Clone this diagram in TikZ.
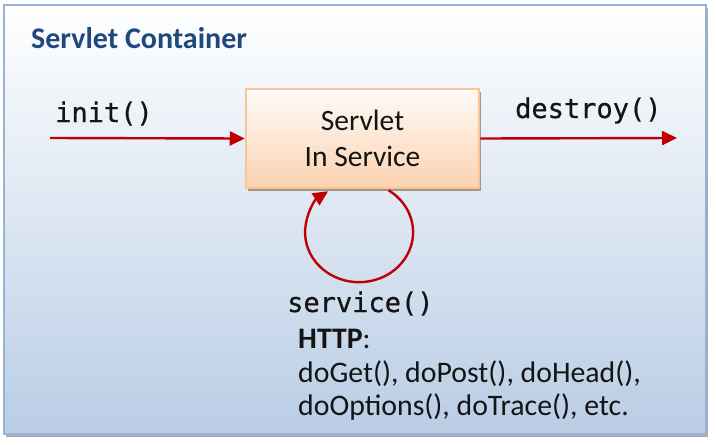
\documentclass[tikz,border=0pt]{standalone}
\usepackage{fontspec}
\setmainfont{Carlito}
\newfontfamily\codefont[FakeBold=0.7]{DejaVu Sans Mono}
\usetikzlibrary{arrows.meta,shadows,calc}
\definecolor{titleblue}{HTML}{1F497D}
\definecolor{bgbottom}{HTML}{B9CDE5}
\definecolor{bgborder}{HTML}{95B3D7}
\definecolor{boxbottom}{HTML}{FBD2B0}
\definecolor{boxtop}{HTML}{FFFBF8}
\definecolor{boxborder}{HTML}{FBC497}
\definecolor{arrowred}{HTML}{C00000}
\definecolor{txt}{HTML}{141414}
\tikzset{
  container/.style={draw=bgborder, line width=1.6pt, top color=white, bottom color=bgbottom,
    drop shadow={shadow xshift=1.5pt, shadow yshift=-3pt, fill=gray!70!bgbottom, opacity=0.8}},
  servletbox/.style={draw=boxborder, line width=2.5pt, top color=boxtop, bottom color=boxbottom,
    minimum width=233pt, minimum height=99pt, inner sep=0pt, align=center, text=txt,
    font=\fontsize{29.5}{36}\selectfont,
    drop shadow={shadow xshift=2pt, shadow yshift=-3pt, fill=black!45!boxbottom, opacity=0.7}},
  flow/.style={draw=arrowred, line width=2.4pt, -{Triangle[length=15pt,width=14pt]}},
  codelabel/.style={anchor=base west, inner sep=0pt, text=txt, font=\codefont\fontsize{27}{30}\selectfont},
  bodytext/.style={anchor=base west, inner sep=0pt, text=txt, font=\fontsize{29.8}{33}\selectfont},
  titletext/.style={anchor=base west, inner sep=0pt, text=titleblue, font=\bfseries\fontsize{30}{34}\selectfont}
}
\begin{document}
\begin{tikzpicture}[x=1pt,y=1pt]
\useasboundingbox (0,0) rectangle (716,-445);
\path[container] (4,-5) rectangle (706,-434);
\node[titletext] (title) at (31,-48) {Servlet Container};
\node[servletbox] (box) at (362.5,-138.5) {Servlet\\In Service};
\coordinate (instart) at (50,-138);
\coordinate (outend) at (677,-138);
\draw[flow] (instart) -- (box.west);
\draw[flow] (box.east) -- (outend);
\node[codelabel] (init) at (55,-122) {init()};
\node[codelabel] (destroy) at (515,-118) {destroy()};
\draw[flow] ($(box.south)+(26pt,-1pt)$) arc[start angle=57, end angle=-235, x radius=54pt, y radius=50pt];
\node[codelabel] (service) at (287,-312) {service()};
\node[bodytext] (http) at (298,-348) {\textbf{HTTP}:};
\node[bodytext] (methods1) at (298,-382) {doGet(), doPost(), doHead(),};
\node[bodytext] (methods2) at (298,-415) {doOptions(), doTrace(), etc.};
\end{tikzpicture}
\end{document}
